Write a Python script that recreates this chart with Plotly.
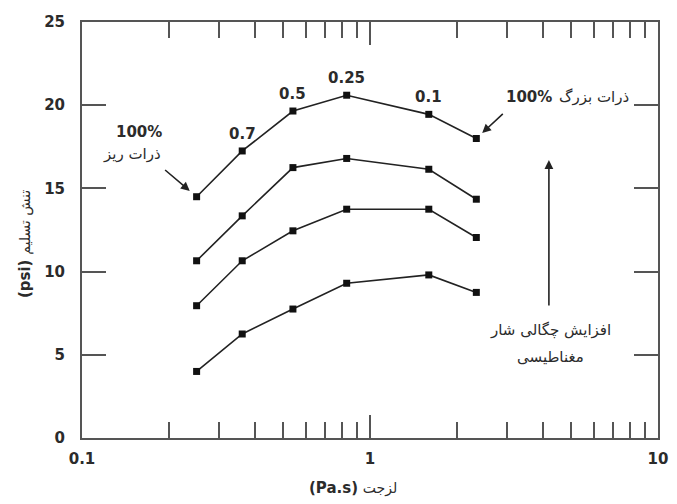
import math
import plotly.graph_objects as go

# Viscosity (Pa.s) at each measurement, shared by all four curves
viscosity = [0.25, 0.36, 0.54, 0.83, 1.60, 2.34]

# Yield stress (psi), one curve per magnetic flux density level (low -> high)
stress_level_1 = [4.0, 6.25, 7.75, 9.3, 9.8, 8.75]
stress_level_2 = [7.95, 10.65, 12.45, 13.75, 13.75, 12.05]
stress_level_3 = [10.65, 13.35, 16.25, 16.8, 16.15, 14.35]
stress_level_4 = [14.5, 17.25, 19.65, 20.6, 19.45, 18.0]

# Fine-particle fraction written above the points of the top curve
fraction_labels = ["0.7", "0.5", "0.25", "0.1"]
fraction_index = [1, 2, 3, 4]

x_tick_vals = [0.1, 1, 10]
x_tick_text = ["0.1", "1", "10"]
x_minor_vals = [0.2, 0.3, 0.4, 0.5, 0.6, 0.7, 0.8, 0.9,
                2, 3, 4, 5, 6, 7, 8, 9]
y_tick_vals = [0, 5, 10, 15, 20, 25]

LINE = "#222222"
AXIS = "#555555"
TEXT = "#2b2b2b"
NUM_FONT = dict(family="DejaVu Sans", size=15, color=TEXT, weight="bold")
FA_FONT = dict(family="DejaVu Sans", size=15, color=TEXT)


def label(x, y, text, font, xanchor="center", yanchor="middle", **kw):
    return dict(x=x, y=y, xref="paper", yref="paper", text=text,
                showarrow=False, font=font, xanchor=xanchor,
                yanchor=yanchor, **kw)


fig = go.Figure()
for ys in [stress_level_1, stress_level_2, stress_level_3, stress_level_4]:
    fig.add_trace(go.Scatter(
        x=viscosity, y=ys, mode="lines+markers",
        line=dict(color=LINE, width=1.6),
        marker=dict(symbol="square", size=7, color="#111111"),
        showlegend=False, hoverinfo="skip",
    ))

annotations = []

# fraction labels over the top curve
for lab, i in zip(fraction_labels, fraction_index):
    annotations.append(dict(
        x=math.log10(viscosity[i]), y=stress_level_4[i], xref="x", yref="y",
        text=lab, showarrow=False, yshift=17, font=NUM_FONT,
        xanchor="center", yanchor="middle",
    ))

# 100% fine particles: label with arrow to the first point
annotations.append(label(0.099, 0.736, "100%", NUM_FONT))
annotations.append(label(0.087, 0.682, "ذرات ریز", FA_FONT))
annotations.append(dict(
    x=math.log10(viscosity[0]), y=stress_level_4[0], xref="x", yref="y",
    ax=-33, ay=-28, text="", showarrow=True, arrowhead=2, arrowsize=1.1,
    arrowwidth=1.6, arrowcolor=LINE, standoff=9,
))

# 100% coarse particles: label with arrow to the last point
annotations.append(label(0.8197, 0.8197, "100%", NUM_FONT, xanchor="right"))
annotations.append(label(0.8245, 0.8197, "ذرات بزرگ", FA_FONT,
                         xanchor="left"))
annotations.append(dict(
    x=math.log10(viscosity[-1]), y=stress_level_4[-1], xref="x", yref="y",
    ax=28, ay=-26, text="", showarrow=True, arrowhead=2, arrowsize=1.1,
    arrowwidth=1.6, arrowcolor=LINE, standoff=8,
))

# increasing magnetic flux density
annotations.append(dict(
    x=0.8106, y=0.668, xref="paper", yref="paper", ax=0, ay=147,
    text="", showarrow=True, arrowhead=2, arrowsize=1.1,
    arrowwidth=1.6, arrowcolor=LINE,
))
annotations.append(label(0.814, 0.2596, "افزایش چگالی شار", FA_FONT))
annotations.append(label(0.814, 0.1947, "مغناطیسی", FA_FONT))

# axis titles
annotations.append(label(
    0.471, -0.120,
    "<b>(Pa.s)</b> <span style='font-size:14px'>لزجت</span>",
    dict(family="DejaVu Sans", size=15, color=TEXT),
))
annotations.append(label(
    -0.099, 0.466,
    "<b>(psi)</b> <span style='font-size:14px'>تنش تسلیم</span>",
    dict(family="DejaVu Sans", size=15, color=TEXT),
    textangle=-90,
))

fig.update_layout(
    width=677, height=504,
    margin=dict(l=82, r=9, t=22, b=66),
    paper_bgcolor="white", plot_bgcolor="white",
    annotations=annotations,
    xaxis=dict(
        type="log", range=[-1, 1],
        tickmode="array", tickvals=x_tick_vals, ticktext=x_tick_text,
        ticks="inside", ticklen=23, tickwidth=2, tickcolor=AXIS,
        showline=True, linewidth=2, linecolor=AXIS, mirror="ticks",
        showgrid=False, zeroline=False, tickfont=NUM_FONT,
        ticklabelstandoff=6,
        minor=dict(tickmode="array", tickvals=x_minor_vals, ticks="inside",
                   ticklen=16, tickwidth=2, tickcolor=AXIS, showgrid=False),
    ),
    yaxis=dict(
        range=[0, 25], tickmode="array", tickvals=y_tick_vals,
        ticks="inside", ticklen=24, tickwidth=2, tickcolor=AXIS,
        showline=True, linewidth=2, linecolor=AXIS, mirror="ticks",
        showgrid=False, zeroline=False, tickfont=NUM_FONT,
        ticklabelstandoff=12,
    ),
)

fig.write_html("out.html")
